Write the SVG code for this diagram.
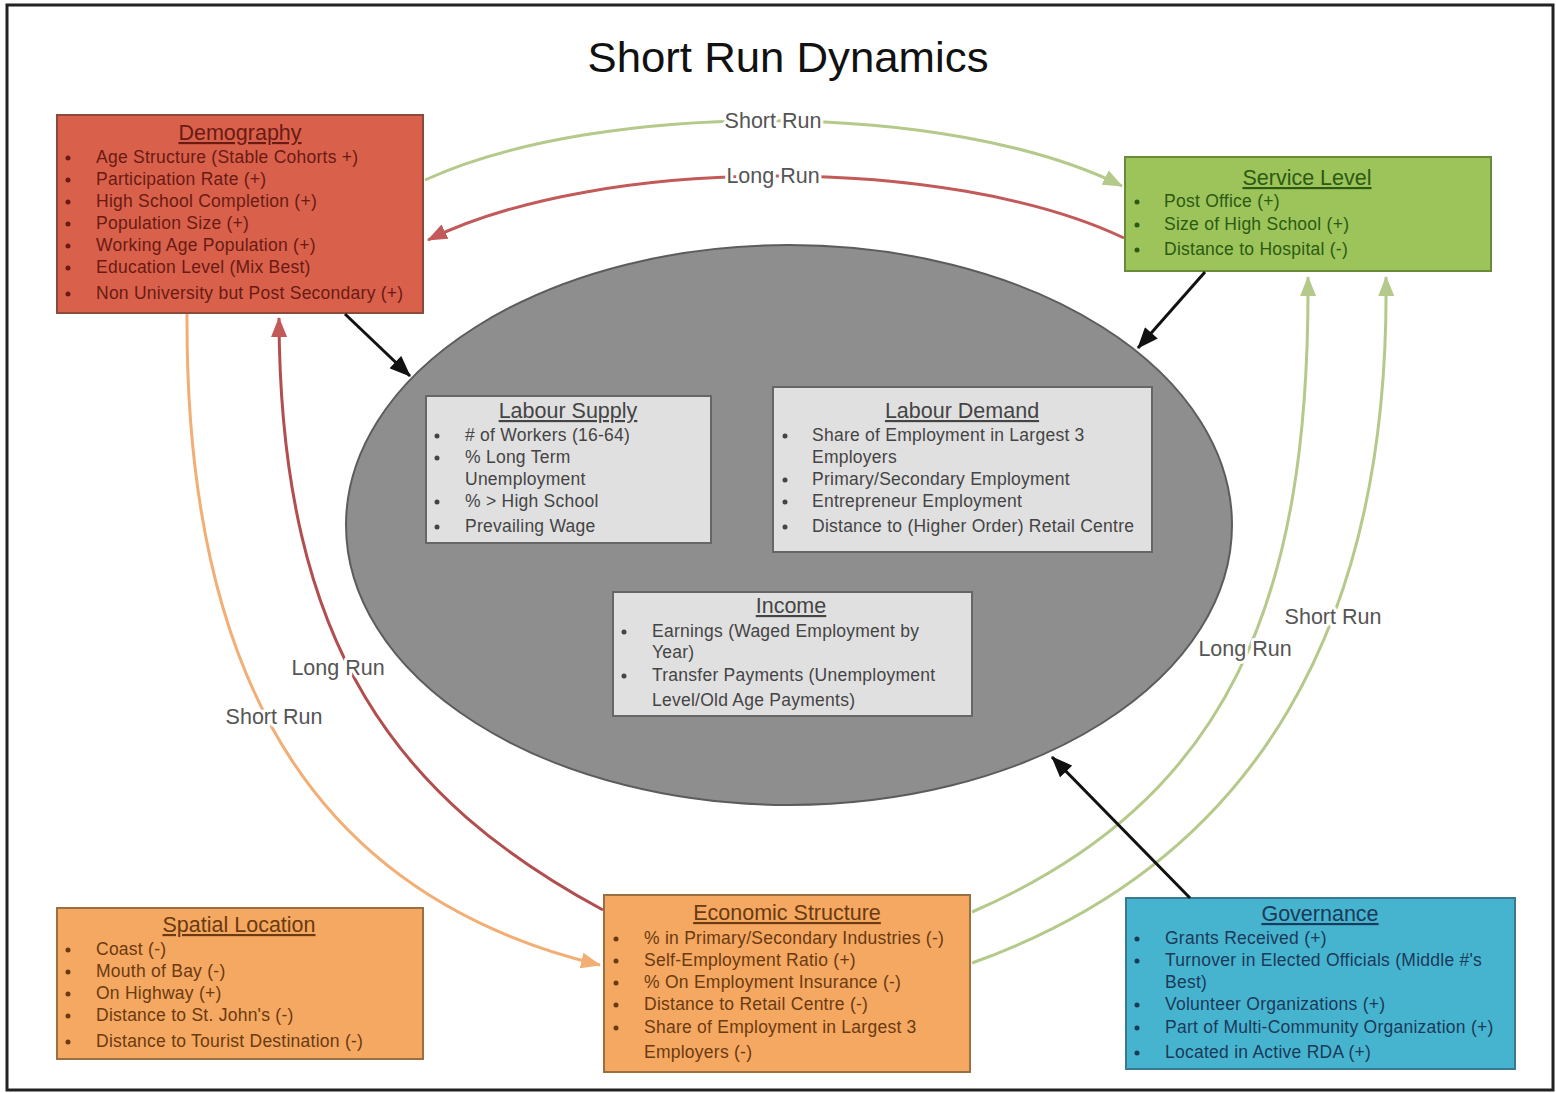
<svg xmlns="http://www.w3.org/2000/svg" width="1556" height="1093" viewBox="0 0 1556 1093">
<style>
text{font-family:"Liberation Sans",Arial,sans-serif}
.ttl{font-size:21.5px;text-anchor:middle;text-decoration:underline}
.it{font-size:17.5px;letter-spacing:0.25px}
.lbl{font-size:21.5px;fill:#555;text-anchor:middle;stroke:#fff;stroke-width:6px;paint-order:stroke;stroke-linejoin:round}
.con{fill:none;stroke-width:3}
.blk{fill:none;stroke:#111;stroke-width:3}
</style>
<defs>
<marker id="aG" viewBox="0 0 20 16" refX="19" refY="8" markerWidth="20" markerHeight="16" orient="auto" markerUnits="userSpaceOnUse"><path d="M0,0 L20,8 L0,16 Z" fill="#b4c98a"/></marker>
<marker id="aR" viewBox="0 0 20 16" refX="19" refY="8" markerWidth="20" markerHeight="16" orient="auto" markerUnits="userSpaceOnUse"><path d="M0,0 L20,8 L0,16 Z" fill="#c25a5a"/></marker>
<marker id="aO" viewBox="0 0 20 16" refX="19" refY="8" markerWidth="20" markerHeight="16" orient="auto" markerUnits="userSpaceOnUse"><path d="M0,0 L20,8 L0,16 Z" fill="#f2ae74"/></marker>
<marker id="aK" viewBox="0 0 20 16" refX="19" refY="8" markerWidth="22" markerHeight="17" orient="auto" markerUnits="userSpaceOnUse"><path d="M0,0 L20,8 L0,16 Z" fill="#111"/></marker>
</defs>
<rect x="0" y="0" width="1556" height="1093" fill="#fff"/>
<rect x="7" y="5" width="1546" height="1085" fill="#fff" stroke="#222" stroke-width="3"/>
<text x="788" y="72" font-size="42" text-anchor="middle" fill="#111" textLength="401" lengthAdjust="spacingAndGlyphs">Short Run Dynamics</text>

<g id="core">
<ellipse cx="789" cy="525" rx="443" ry="280" fill="#8e8e8e" stroke="#5c5c5c" stroke-width="2"/>
</g>

<g id="demography">
<rect x="57" y="115" width="366" height="198" fill="#d9614c" stroke="#8a4a3c" stroke-width="2"/>
<g fill="#6a1a12">
<text class="ttl" x="240" y="140">Demography</text>
<g class="it">
<circle cx="68" cy="158" r="2.5"/><text x="96" y="163">Age Structure (Stable Cohorts +)</text>
<circle cx="68" cy="180" r="2.5"/><text x="96" y="185">Participation Rate (+)</text>
<circle cx="68" cy="202" r="2.5"/><text x="96" y="207">High School Completion (+)</text>
<circle cx="68" cy="224" r="2.5"/><text x="96" y="229">Population Size (+)</text>
<circle cx="68" cy="246" r="2.5"/><text x="96" y="251">Working Age Population (+)</text>
<circle cx="68" cy="268" r="2.5"/><text x="96" y="273">Education Level (Mix Best)</text>
<circle cx="68" cy="294" r="2.5"/><text x="96" y="299">Non University but Post Secondary (+)</text>
</g></g>
</g>

<g id="service-level">
<rect x="1125" y="157" width="366" height="114" fill="#9cc45b" stroke="#6a8a3a" stroke-width="2"/>
<g fill="#2c5a12">
<text class="ttl" x="1307" y="185">Service Level</text>
<g class="it">
<circle cx="1137" cy="202" r="2.5"/><text x="1164" y="207">Post Office (+)</text>
<circle cx="1137" cy="225" r="2.5"/><text x="1164" y="230">Size of High School (+)</text>
<circle cx="1137" cy="250" r="2.5"/><text x="1164" y="255">Distance to Hospital (-)</text>
</g></g>
</g>

<g id="labour-supply">
<rect x="426" y="396" width="285" height="147" fill="#e0e0e0" stroke="#666" stroke-width="2"/>
<g fill="#444">
<text class="ttl" x="568" y="418">Labour Supply</text>
<g class="it">
<circle cx="437" cy="436" r="2.5"/><text x="465" y="441"># of Workers (16-64)</text>
<circle cx="437" cy="458" r="2.5"/><text x="465" y="463">% Long Term</text>
<text x="465" y="485">Unemployment</text>
<circle cx="437" cy="502" r="2.5"/><text x="465" y="507">% &gt; High School</text>
<circle cx="437" cy="527" r="2.5"/><text x="465" y="532">Prevailing Wage</text>
</g></g>
</g>

<g id="labour-demand">
<rect x="773" y="387" width="379" height="165" fill="#e0e0e0" stroke="#666" stroke-width="2"/>
<g fill="#444">
<text class="ttl" x="962" y="418">Labour Demand</text>
<g class="it">
<circle cx="785" cy="436" r="2.5"/><text x="812" y="441">Share of Employment in Largest 3</text>
<text x="812" y="463">Employers</text>
<circle cx="785" cy="480" r="2.5"/><text x="812" y="485">Primary/Secondary Employment</text>
<circle cx="785" cy="502" r="2.5"/><text x="812" y="507">Entrepreneur Employment</text>
<circle cx="785" cy="527" r="2.5"/><text x="812" y="532">Distance to (Higher Order) Retail Centre</text>
</g></g>
</g>

<g id="income">
<rect x="613" y="592" width="359" height="124" fill="#e0e0e0" stroke="#666" stroke-width="2"/>
<g fill="#444">
<text class="ttl" x="791" y="613">Income</text>
<g class="it">
<circle cx="624" cy="632" r="2.5"/><text x="652" y="637">Earnings (Waged Employment by</text>
<text x="652" y="658">Year)</text>
<circle cx="624" cy="676" r="2.5"/><text x="652" y="681">Transfer Payments (Unemployment</text>
<text x="652" y="706">Level/Old Age Payments)</text>
</g></g>
</g>

<g id="spatial-location">
<rect x="57" y="908" width="366" height="151" fill="#f5a862" stroke="#9a7040" stroke-width="2"/>
<g fill="#6a3a10">
<text class="ttl" x="239" y="932">Spatial Location</text>
<g class="it">
<circle cx="68" cy="950" r="2.5"/><text x="96" y="955">Coast (-)</text>
<circle cx="68" cy="972" r="2.5"/><text x="96" y="977">Mouth of Bay (-)</text>
<circle cx="68" cy="994" r="2.5"/><text x="96" y="999">On Highway (+)</text>
<circle cx="68" cy="1016" r="2.5"/><text x="96" y="1021">Distance to St. John's (-)</text>
<circle cx="68" cy="1042" r="2.5"/><text x="96" y="1047">Distance to Tourist Destination (-)</text>
</g></g>
</g>

<g id="economic-structure">
<rect x="604" y="895" width="366" height="177" fill="#f5a862" stroke="#9a7040" stroke-width="2"/>
<g fill="#6a3a10">
<text class="ttl" x="787" y="920">Economic Structure</text>
<g class="it">
<circle cx="616" cy="939" r="2.5"/><text x="644" y="944">% in Primary/Secondary Industries (-)</text>
<circle cx="616" cy="961" r="2.5"/><text x="644" y="966">Self-Employment Ratio (+)</text>
<circle cx="616" cy="983" r="2.5"/><text x="644" y="988">% On Employment Insurance (-)</text>
<circle cx="616" cy="1005" r="2.5"/><text x="644" y="1010">Distance to Retail Centre (-)</text>
<circle cx="616" cy="1028" r="2.5"/><text x="644" y="1033">Share of Employment in Largest 3</text>
<text x="644" y="1058">Employers (-)</text>
</g></g>
</g>

<g id="governance">
<rect x="1126" y="898" width="389" height="171" fill="#47b4cf" stroke="#3a7a90" stroke-width="2"/>
<g fill="#1a3a5a">
<text class="ttl" x="1320" y="921">Governance</text>
<g class="it">
<circle cx="1137" cy="939" r="2.5"/><text x="1165" y="944">Grants Received (+)</text>
<circle cx="1137" cy="961" r="2.5"/><text x="1165" y="966">Turnover in Elected Officials (Middle #'s</text>
<text x="1165" y="988">Best)</text>
<circle cx="1137" cy="1005" r="2.5"/><text x="1165" y="1010">Volunteer Organizations (+)</text>
<circle cx="1137" cy="1028" r="2.5"/><text x="1165" y="1033">Part of Multi-Community Organization (+)</text>
<circle cx="1137" cy="1053" r="2.5"/><text x="1165" y="1058">Located in Active RDA (+)</text>
</g></g>
</g>

<g id="connectors">
<path class="con" stroke="#b4c98a" d="M425,180 C600,100 950,100 1122,186" marker-end="url(#aG)"/>
<path class="con" stroke="#c25a5a" d="M1124,238 C950,155 600,155 428,240" marker-end="url(#aR)"/>
<path class="con" stroke="#f2ae74" d="M187,314 C185,700 330,900 600,965" marker-end="url(#aO)"/>
<path class="con" stroke="#b24e4e" d="M603,910 C400,800 280,650 279,318" marker-end="url(#aR)"/>
<path class="con" stroke="#b4c98a" d="M972,912 C1230,800 1310,600 1308,277" marker-end="url(#aG)"/>
<path class="con" stroke="#b4c98a" d="M972,963 C1260,860 1390,620 1386,277" marker-end="url(#aG)"/>
<path class="blk" d="M345,314 L410,376" marker-end="url(#aK)"/>
<path class="blk" d="M1205,272 L1138,348" marker-end="url(#aK)"/>
<path class="blk" d="M1190,898 L1052,757" marker-end="url(#aK)"/>
<text class="lbl" x="773" y="128">Short Run</text>
<text class="lbl" x="773" y="183">Long Run</text>
<text class="lbl" x="338" y="675">Long Run</text>
<text class="lbl" x="274" y="724">Short Run</text>
<text class="lbl" x="1245" y="656">Long Run</text>
<text class="lbl" x="1333" y="624">Short Run</text>
</g>
</svg>
